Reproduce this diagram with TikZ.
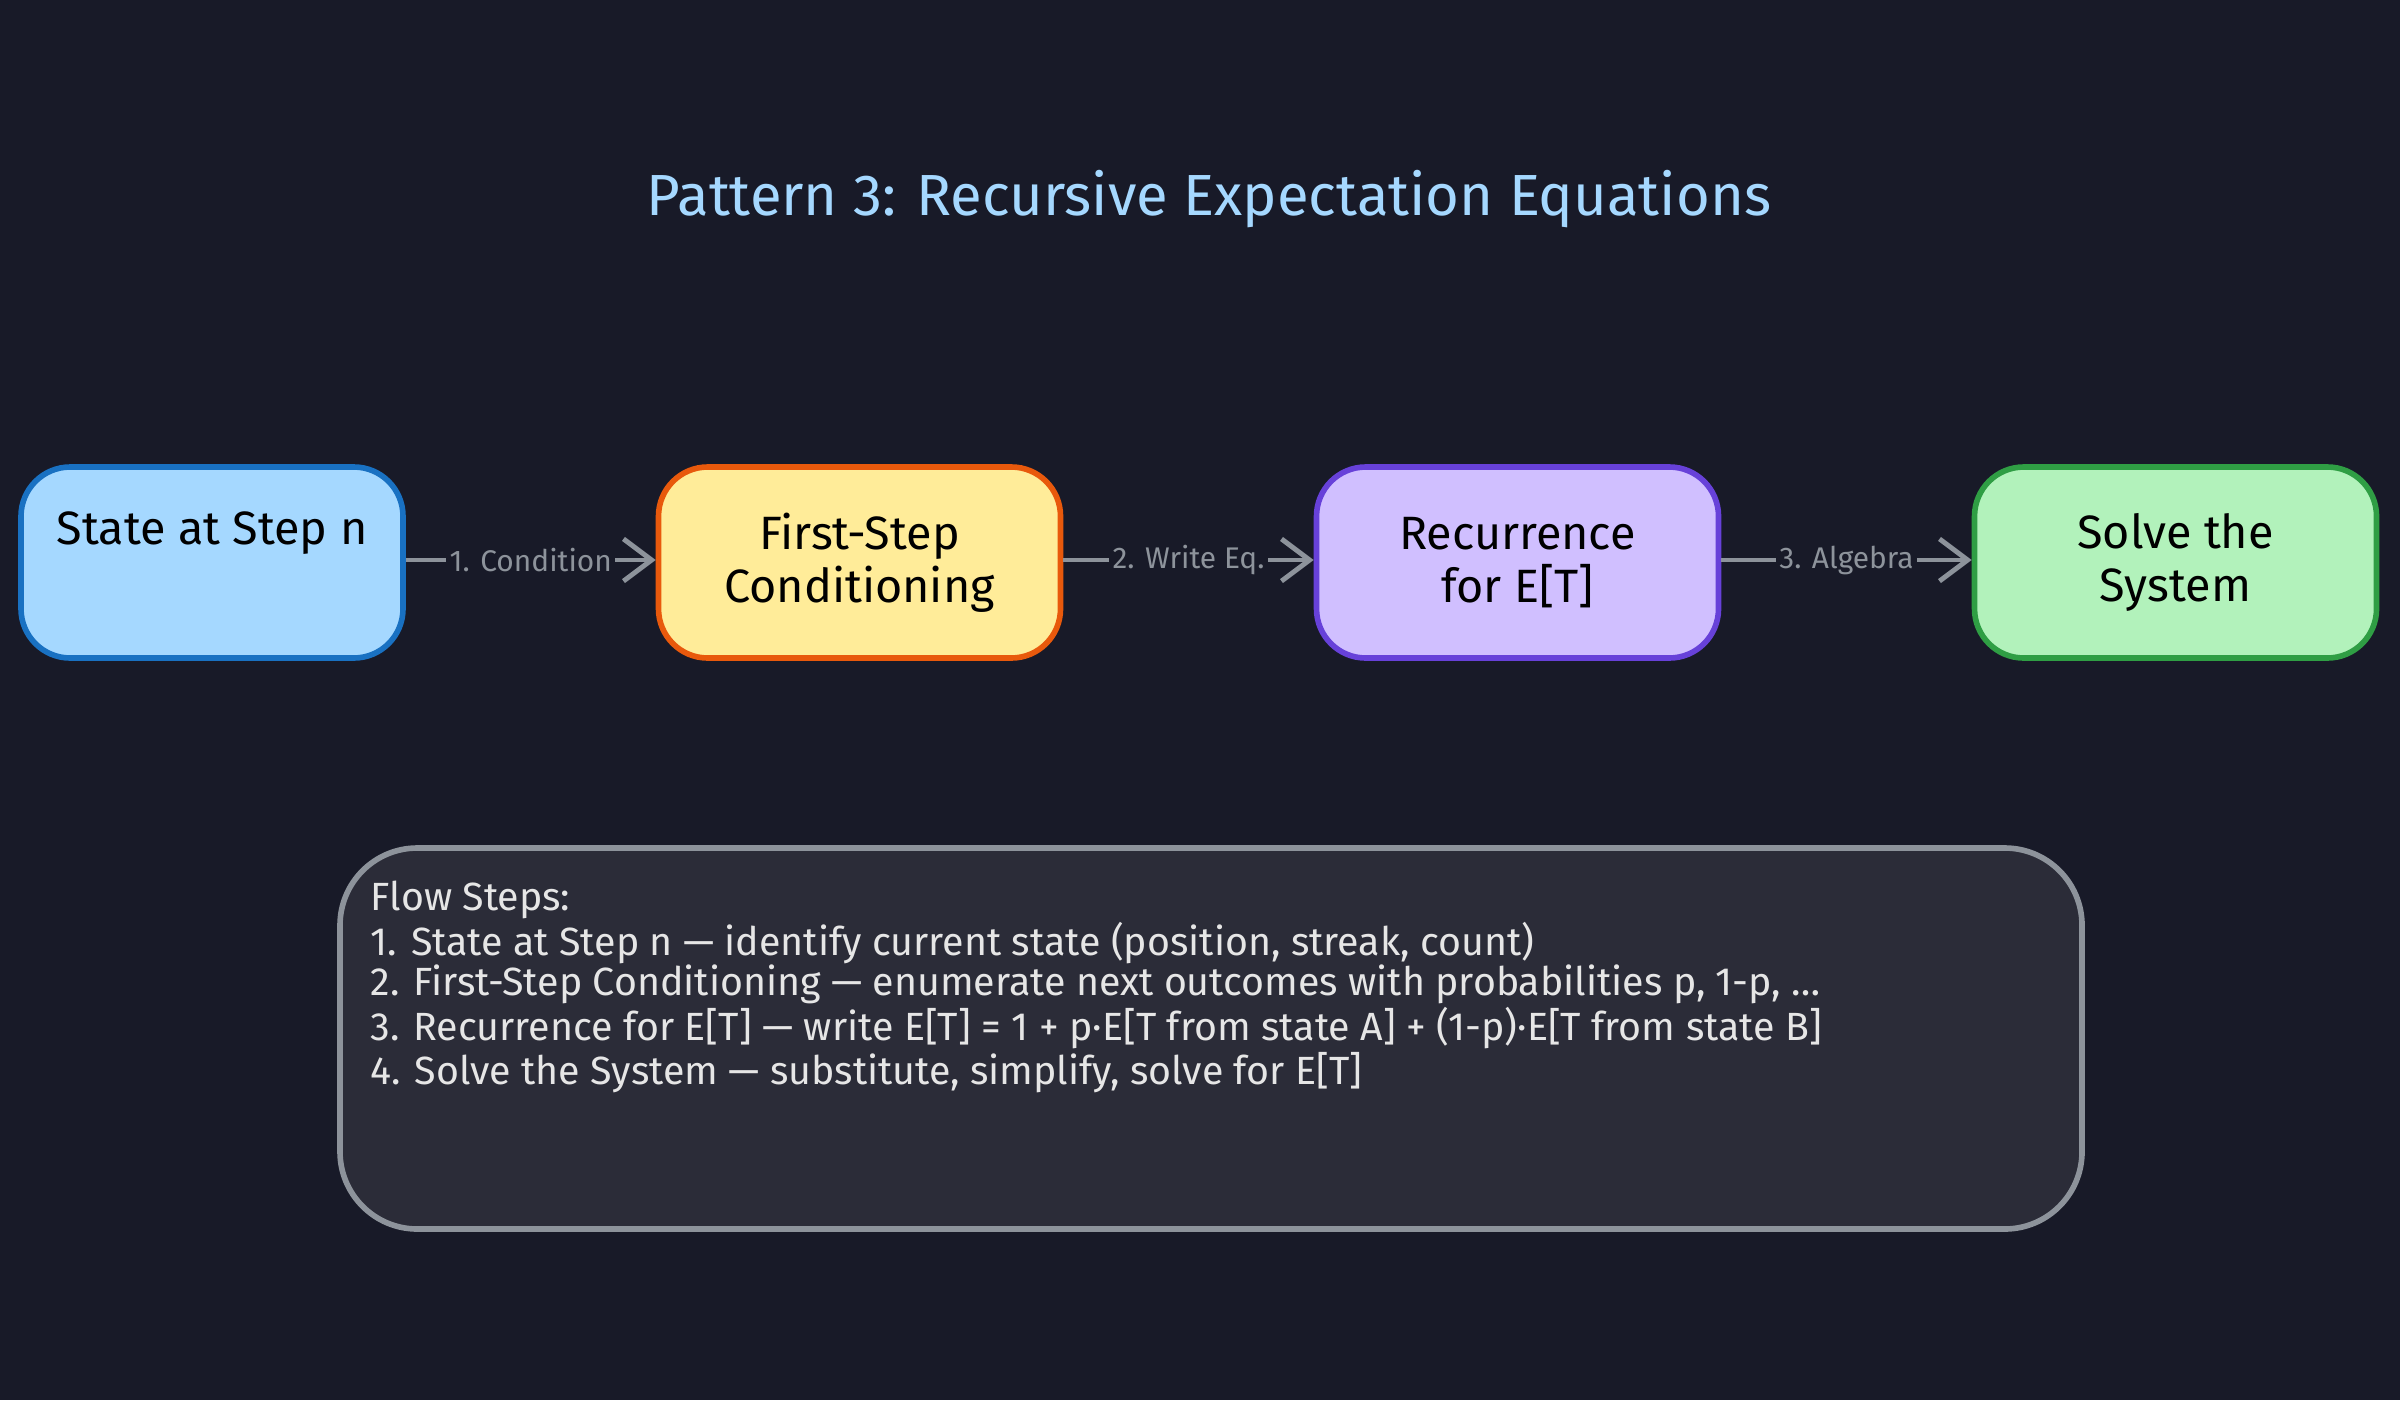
\documentclass[tikz,border=0pt]{standalone}
\usepackage{fontspec}
\setmainfont{Fira Sans}
\usetikzlibrary{arrows.meta}
\definecolor{bg}{HTML}{181A28}
\definecolor{edge}{HTML}{8D939B}
\definecolor{ttl}{HTML}{A5D8FF}
\definecolor{f1}{HTML}{A5D8FF}\definecolor{s1}{HTML}{1971C2}
\definecolor{f2}{HTML}{FFEC99}\definecolor{s2}{HTML}{E8590C}
\definecolor{f3}{HTML}{D0BFFF}\definecolor{s3}{HTML}{6741D9}
\definecolor{f4}{HTML}{B2F2BB}\definecolor{s4}{HTML}{2F9E44}
\definecolor{nf}{HTML}{2B2C38}\definecolor{nt}{HTML}{E6E6E6}
\tikzset{
 box/.style={rounded corners=14pt, line width=1.6pt, minimum width=4.02cm, minimum height=1.91cm, align=center, font=\fontsize{13.3}{15}\selectfont, text=black},
 conn/.style={draw=edge, line width=1.4pt, -{Straight Barb[length=8pt,width=12pt]}},
 lab/.style={fill=bg, text=edge, font=\fontsize{8.5}{10}\selectfont, inner sep=1pt}
}
\begin{document}
\begin{tikzpicture}[x=1cm,y=-1cm]
\fill[bg] (0,0) rectangle (24,14);
\useasboundingbox (0,0) rectangle (24,14);
\node[text=ttl, font=\fontsize{16.5}{19}\selectfont] (title) at (12.09,1.99) {Pattern 3: Recursive Expectation Equations};
\node[box, fill=f1, draw=s1, minimum width=3.82cm] (a) at (2.12,5.625) {State at Step n\\\strut};
\node[box, fill=f2, draw=s2] (b) at (8.595,5.625) {First-Step\\Conditioning};
\node[box, fill=f3, draw=s3] (c) at (15.175,5.625) {Recurrence\\for E[T]};
\node[box, fill=f4, draw=s4] (d) at (21.755,5.625) {Solve the\\System};
\draw[conn] (a.east|-0,5.6) -- node[lab]{1. Condition} (b.west|-0,5.6);
\draw[conn] (b.east|-0,5.6) -- node[lab]{2. Write Eq.} (c.west|-0,5.6);
\draw[conn] (c.east|-0,5.6) -- node[lab]{3. Algebra} (d.west|-0,5.6);
\node[draw=edge, fill=nf, line width=1.6pt, rounded corners=22pt, minimum width=17.42cm, minimum height=3.81cm] (note) at (12.11,10.385) {};
\node[anchor=north west, align=left, text=nt, font=\fontsize{11.2}{11.4}\selectfont, inner sep=0pt] (ntx) at (3.7,8.8) {Flow Steps:\\
1. State at Step n — identify current state (position, streak, count)\\
2. First-Step Conditioning — enumerate next outcomes with probabilities p, 1-p, …\\
3. Recurrence for E[T] — write E[T] = 1 + p·E[T from state A] + (1-p)·E[T from state B]\\
4. Solve the System — substitute, simplify, solve for E[T]};
\end{tikzpicture}
\end{document}
